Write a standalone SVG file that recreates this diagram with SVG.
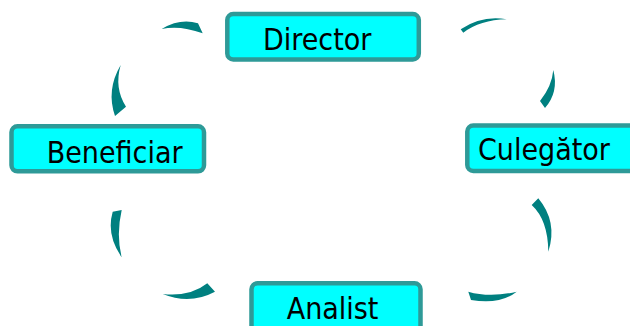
<svg xmlns="http://www.w3.org/2000/svg" width="630" height="326" viewBox="0 0 630 326">
<style>
.box{fill:#00FFFF;stroke:#2E9A98;stroke-width:4.5}
.lbl{font-family:"DejaVu Sans Condensed","DejaVu Sans",sans-serif;font-stretch:condensed;font-size:30px;fill:#000}
.arc{fill:#008080;stroke:none}
</style>
<rect width="630" height="326" fill="#fff"/>
<g id="connectors">
<path class="arc" d="M161.7,29 Q180,18 198,23.3 L202.7,33.3 Q180,25 161.7,29 Z"/>
<path class="arc" d="M120.7,65 Q106,90 115,116 L126,106.7 Q114,88 120.7,65 Z"/>
<path class="arc" d="M112.7,211.7 L121.7,210 Q116,235 121.7,257.3 Q106,235 112.7,211.7 Z"/>
<path class="arc" d="M162.7,294 Q190,305 215,291.7 L207.3,283.3 Q190,297 162.7,294 Z"/>
<path class="arc" d="M468.3,291.7 L471,300 Q500,305 516.7,291.7 Q490,298 468.3,291.7 Z"/>
<path class="arc" d="M531.7,205 L538.3,198.3 Q558,222 548.3,251.7 Q548,220 531.7,205 Z"/>
<path class="arc" d="M553.3,70 Q559,92 545,108 L540,101 Q552,86 553.3,70 Z"/>
<path class="arc" d="M460.7,29.3 Q482,15 506.7,19.3 Q480,20 463.3,32.7 Z"/>
</g>
<g id="director">
<rect class="box" x="227.3" y="14" width="191.5" height="45.5" rx="6"/>
<text class="lbl" x="263" y="50">Director</text>
</g>
<g id="culegator">
<rect class="box" x="467.3" y="125.5" width="172" height="45.5" rx="6"/>
<text class="lbl" x="478" y="160">Culegător</text>
</g>
<g id="beneficiar">
<rect class="box" x="11.5" y="126.3" width="192.5" height="45" rx="6"/>
<text class="lbl" x="46.7" y="163">Beneficiar</text>
</g>
<g id="analist">
<rect class="box" x="251.5" y="283.3" width="169" height="50" rx="6"/>
<text class="lbl" x="286.7" y="318.5">Analist</text>
</g>
</svg>
